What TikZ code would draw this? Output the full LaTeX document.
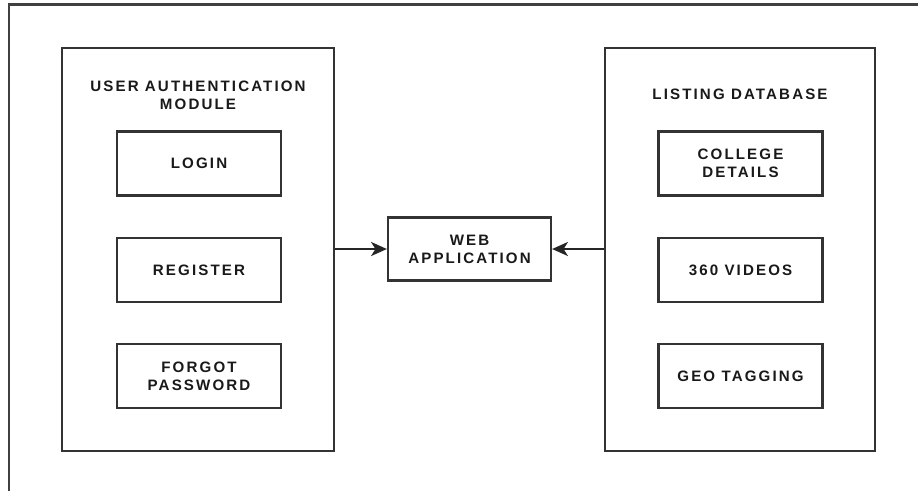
\documentclass[tikz,border=0pt]{standalone}
\usepackage{fontspec}
\newfontfamily\diagfont{Liberation Sans}[LetterSpace=14]
\usepackage{tikz}
\usetikzlibrary{positioning, arrows.meta}

\begin{document}
\begin{tikzpicture}[
x=0.02cm, y=-0.02cm,
every node/.style={align=center, font=\diagfont\bfseries\fontsize{8.6}{10.2}\selectfont, text=black!90},
module/.style={draw=black!80, line width=1.3pt, minimum width=5.44cm, minimum height=8.06cm},
item/.style={draw=black!80, line width=1.3pt, minimum width=3.28cm, minimum height=1.28cm},
title/.style={draw=none},
arrow/.style={-{Stealth[length=9pt, width=8pt, inset=2.5pt]}, line width=1.2pt, draw=black!85}
]
\useasboundingbox (0,0) rectangle (918,491);

% ====== Frame ======
\draw[line width=1.3pt, black!75] (918,4.5) -- (9,4.5) -- (9,491);

% ====== User Authentication Module ======
\node[module] (auth) at (198,249.5) {};
\node[title] (authtitle) at (198,95) {USER AUTHENTICATION\\MODULE};
\node[item] (login) at (199,163.5) {LOGIN};
\node[item] (register) at (199,270) {REGISTER};
\node[item] (forgot) at (199,376) {FORGOT\\PASSWORD};

% ====== Web Application ======
\node[item, minimum width=3.26cm, minimum height=1.26cm] (web) at (469.5,249) {WEB\\APPLICATION};

% ====== Listing Database ======
\node[module, minimum width=5.4cm] (listing) at (740,249.5) {};
\node[title] (listtitle) at (740,94) {LISTING DATABASE};
\node[item] (college) at (740.5,163.5) {COLLEGE\\DETAILS};
\node[item] (videos) at (740.5,270) {360 VIDEOS};
\node[item] (geo) at (740.5,376) {GEO TAGGING};

% ====== Connections ======
\draw[arrow] (auth.east |- web.west) -- (web.west);
\draw[arrow] (listing.west |- web.east) -- (web.east);

\end{tikzpicture}
\end{document}
